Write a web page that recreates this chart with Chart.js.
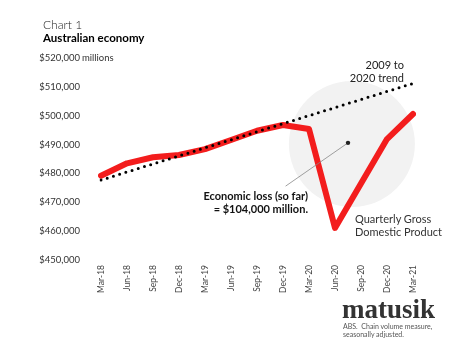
<!DOCTYPE html>
<html>
<head>
<meta charset="utf-8">
<script src="https://cdn.jsdelivr.net/npm/chart.js@4.4.1/dist/chart.umd.min.js"></script>
<style>
  html, body { margin: 0; padding: 0; background: #fff; }
  #wrap { position: relative; width: 474px; height: 355px; overflow: hidden; font-family: Lato, "Noto Sans", sans-serif; }
  #c { position: absolute; left: 0; top: 0; }
  .t { position: absolute; white-space: nowrap; line-height: 1; transform: translateY(-50%); }
  .r { text-align: right; }
</style>
</head>
<body>
<div id="wrap">
  <canvas id="c" width="474" height="355"></canvas>
  <div class="t" style="left:43px; top:25px; font-size:12px; font-weight:300; color:#222;">Chart 1</div>
  <div class="t" style="left:43px; top:38px; font-size:11.5px; font-weight:700; color:#000;">Australian economy</div>
  <div class="t" style="left:82px; top:58px; font-size:9.5px; color:#333;">millions</div>
  <div class="t r" style="right:70px; top:64px; font-size:11px; color:#222;">2009 to</div>
  <div class="t r" style="right:70px; top:77px; font-size:11px; color:#222;">2020 trend</div>
  <div class="t r" style="right:166px; top:195px; font-size:11px; font-weight:700; color:#111;">Economic loss (so far)</div>
  <div class="t r" style="right:166px; top:208px; font-size:11px; font-weight:700; color:#111;">= $104,000 million.</div>
  <div class="t" style="left:355px; top:218px; font-size:11px; color:#333;">Quarterly Gross</div>
  <div class="t" style="left:355px; top:231px; font-size:11px; color:#333;">Domestic Product</div>
  <div style="position:absolute; left:342px; top:296px; line-height:1; white-space:nowrap; font-size:27px; font-weight:700; font-family:'Liberation Serif', 'DejaVu Serif', serif; color:#333;">matusik</div>
  <div class="t" style="left:343px; top:325.5px; font-size:7px; color:#555;">ABS.&nbsp; Chain volume measure,</div>
  <div class="t" style="left:343px; top:334px; font-size:7px; color:#555;">seasonally adjusted.</div>
</div>
<script>
const categories = ['Mar-18','Jun-18','Sep-18','Dec-18','Mar-19','Jun-19','Sep-19','Dec-19','Mar-20','Jun-20','Sep-20','Dec-20','Mar-21'];
const gdpValues = [479200, 483500, 485600, 486400, 488400, 491600, 494800, 496800, 495400, 461100, 476500, 491900, 500600];
// 2009 to 2020 linear trend: endpoints, straight line between them
const trendValues = [477700, null, null, null, null, null, null, null, null, null, null, null, 511200];
const yTicks = [450000, 460000, 470000, 480000, 490000, 500000, 510000, 520000];

const decoPlugin = {
  id: 'deco',
  beforeDatasetsDraw(chart) {
    const ctx = chart.ctx, x = chart.scales.x, y = chart.scales.y;
    ctx.save();
    ctx.fillStyle = '#f2f2f2';
    ctx.beginPath();
    ctx.arc(x.getPixelForValue(9.65), y.getPixelForValue(490200), 63, 0, Math.PI * 2);
    ctx.fill();
    ctx.restore();
  },
  afterDatasetsDraw(chart) {
    const ctx = chart.ctx, x = chart.scales.x, y = chart.scales.y;
    const px = x.getPixelForValue(9.5), py = y.getPixelForValue(490600);
    const ex = x.getPixelForValue(7.1), ey = y.getPixelForValue(475600);
    ctx.save();
    ctx.strokeStyle = '#888';
    ctx.lineWidth = 0.8;
    ctx.beginPath();
    ctx.moveTo(px, py);
    ctx.lineTo(ex, ey);
    ctx.stroke();
    ctx.fillStyle = '#222';
    ctx.beginPath();
    ctx.arc(px, py, 2.2, 0, Math.PI * 2);
    ctx.fill();
    ctx.restore();
  }
};

new Chart(document.getElementById('c'), {
  type: 'line',
  data: {
    labels: categories,
    datasets: [
      {
        label: 'Quarterly Gross Domestic Product',
        data: gdpValues,
        borderColor: '#f31d1d',
        borderWidth: 6,
        borderCapStyle: 'round',
        borderJoinStyle: 'round',
        pointRadius: 0,
        tension: 0,
        fill: false,
        order: 2
      },
      {
        label: '2009 to 2020 trend',
        data: trendValues,
        spanGaps: true,
        borderColor: '#000',
        borderWidth: 3,
        borderDash: [0, 6.5],
        borderCapStyle: 'round',
        pointRadius: 0,
        tension: 0,
        fill: false,
        order: 1
      }
    ]
  },
  options: {
    responsive: false,
    animation: false,
    events: [],
    layout: { padding: { left: 0, top: 58, right: 61, bottom: 0 } },
    plugins: { legend: { display: false }, tooltip: { enabled: false }, title: { display: false } },
    scales: {
      x: {
        offset: false,
        grid: { display: false, drawTicks: false },
        border: { display: false },
        ticks: {
          autoSkip: false,
          minRotation: 90,
          maxRotation: 90,
          padding: 5,
          color: '#444',
          font: { family: 'Lato, "Noto Sans", sans-serif', size: 8.5 }
        },
        afterFit(s) { s.height = 95; }
      },
      y: {
        min: 450000,
        max: 520000,
        grid: { display: false, drawTicks: false },
        border: { display: false },
        afterBuildTicks(s) { s.ticks = yTicks.map(v => ({ value: v })); },
        ticks: {
          padding: 21,
          color: '#333',
          font: { family: 'Lato, "Noto Sans", sans-serif', size: 9.5 },
          callback: v => '$' + v.toLocaleString('en-US')
        },
        afterFit(s) { s.width = 101; }
      }
    }
  },
  plugins: [decoPlugin]
});
</script>
</body>
</html>
